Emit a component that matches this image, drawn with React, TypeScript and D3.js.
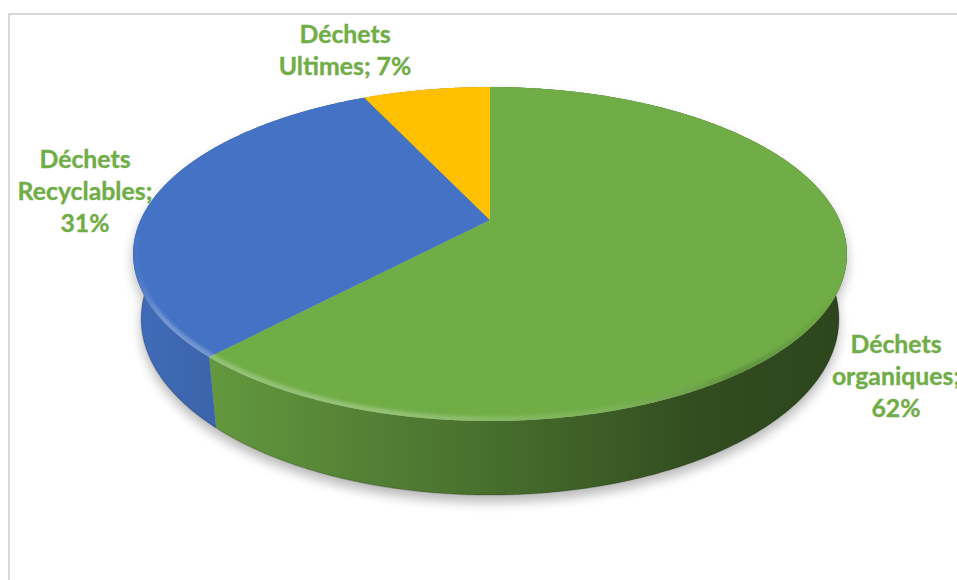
import React from 'react';
import * as d3 from 'd3';

// ---- data ----
const categories = ['Déchets organiques', 'Déchets Recyclables', 'Déchets Ultimes'];
const values = [62, 31, 7];
const labelLines = [
  ['Déchets', 'organiques;', '62%'],
  ['Déchets', 'Recyclables;', '31%'],
  ['Déchets', 'Ultimes; 7%'],
];
const colors = ['#70ad47', '#4472c4', '#ffc000'];

// ---- layout ----
const W = 957, H = 580;
const CX = 490, CY = 220;
const PHI = (27.26 * Math.PI) / 180;
const S = Math.sin(PHI), C = Math.cos(PHI);
const DIST = 4.367, F = 1526, T = 0.2094;
const labelPos = [
  { x: 896, y: 353 },
  { x: 85, y: 168 },
  { x: 345, y: 43 },
];
const LINE = 32;

function project(t: number, r: number, h: number): [number, number] {
  const X = r * Math.sin(t), Z = r * Math.cos(t);
  const v = Z * S + h * C;
  const w = DIST + Z * C - h * S;
  return [CX + (F * X) / w, CY - (F * v) / w];
}

function arcPts(a0: number, a1: number, r: number, h: number): [number, number][] {
  const n = Math.max(2, Math.ceil(Math.abs(a1 - a0) / 0.005));
  const pts: [number, number][] = [];
  for (let i = 0; i <= n; i++) pts.push(project(a0 + ((a1 - a0) * i) / n, r, h));
  return pts;
}

const line = d3.line<[number, number]>().x(d => d[0]).y(d => d[1]);

export default function App() {
  const pie = d3.pie<number>().sort(null).value(d => d).startAngle(0).endAngle(2 * Math.PI);
  const arcs = pie(values);

  const center = project(0, 0, 0);
  const topPaths = arcs.map(a => line([center, ...arcPts(a.startAngle, a.endAngle, 1, 0)])! + 'Z');
  const wallPaths = arcs.map(a => {
    const top = arcPts(a.startAngle, a.endAngle, 1, 0);
    const bot = arcPts(a.endAngle, a.startAngle, 1, -T);
    return line([...top, ...bot])! + 'Z';
  });
  const fullTop = line(arcPts(0, 2 * Math.PI, 1, 0))! + 'Z';
  const fullBot = line(arcPts(0, 2 * Math.PI, 1, -T))! + 'Z';
  const rimPath = line(arcPts((95 * Math.PI) / 180, (265 * Math.PI) / 180, 1, 0))!;

  const xs = arcPts(0, 2 * Math.PI, 1, 0).map(p => p[0]);
  const xMin = d3.min(xs)!, xMax = d3.max(xs)!;

  return (
    <div style={{ position: 'fixed', left: 0, top: 0 }}>
      <svg width={W} height={H} style={{ display: 'block', background: '#fff' }}>
        <defs>
          <filter id="shadow" x="-20%" y="-20%" width="140%" height="140%">
            <feGaussianBlur stdDeviation="6" />
          </filter>
          <filter id="soft" x="-10%" y="-10%" width="120%" height="120%">
            <feGaussianBlur stdDeviation="1.6" />
          </filter>
          <linearGradient id="wallShade" gradientUnits="userSpaceOnUse" x1={xMin} x2={xMax} y1={0} y2={0}>
            <stop offset="0" stopColor="#000" stopOpacity="0.06" />
            <stop offset="0.12" stopColor="#000" stopOpacity="0.13" />
            <stop offset="0.45" stopColor="#000" stopOpacity="0.33" />
            <stop offset="0.8" stopColor="#000" stopOpacity="0.56" />
            <stop offset="1" stopColor="#000" stopOpacity="0.6" />
          </linearGradient>
          <linearGradient id="rimGrad" gradientUnits="userSpaceOnUse" x1={xMin} x2={xMax} y1={0} y2={0}>
            <stop offset="0" stopColor="#fff" stopOpacity="0" />
            <stop offset="0.04" stopColor="#fff" stopOpacity="0.25" />
            <stop offset="0.35" stopColor="#fff" stopOpacity="0.25" />
            <stop offset="0.65" stopColor="#fff" stopOpacity="0.08" />
            <stop offset="0.85" stopColor="#000" stopOpacity="0.15" />
            <stop offset="1" stopColor="#000" stopOpacity="0.0" />
          </linearGradient>
          <clipPath id="topClip">
            <path d={fullTop} />
          </clipPath>
        </defs>

        <rect x={9} y={14} width={W + 20} height={H + 20} fill="none" stroke="#d9d9d9" strokeWidth={2} />

        {/* shadow */}
        <g filter="url(#shadow)" opacity={0.28} transform="translate(0,7)">
          <path d={fullBot} fill="#000" />
          <path d={fullTop} fill="#000" />
        </g>

        {/* walls */}
        {wallPaths.map((d, i) => (
          <g key={'w' + i}>
            <path d={d} fill={colors[i]} />
            <path d={d} fill="url(#wallShade)" />
          </g>
        ))}
        <path d={fullBot} fill="none" stroke="#000" strokeOpacity={0.15} strokeWidth={1.5} />

        {/* top faces */}
        {topPaths.map((d, i) => (
          <path key={'t' + i} d={d} fill={colors[i]} />
        ))}
        <g clipPath="url(#topClip)">
          <path d={rimPath} fill="none" stroke="url(#rimGrad)" strokeWidth={9} filter="url(#soft)" />
        </g>

        {/* labels */}
        {labelLines.map((lines, i) => (
          <text
            key={'l' + i}
            x={labelPos[i].x}
            y={labelPos[i].y}
            textAnchor="middle"
            fontFamily="Lato, 'Open Sans', sans-serif"
            fontWeight="bold"
            fontSize={24.8}
            fill="#70ad47"
            stroke="#70ad47"
            strokeWidth={0.35}
          >
            {lines.map((ln, j) => (
              <tspan key={j} x={labelPos[i].x} dy={j === 0 ? 0 : LINE}>
                {ln}
              </tspan>
            ))}
          </text>
        ))}
      </svg>
    </div>
  );
}
